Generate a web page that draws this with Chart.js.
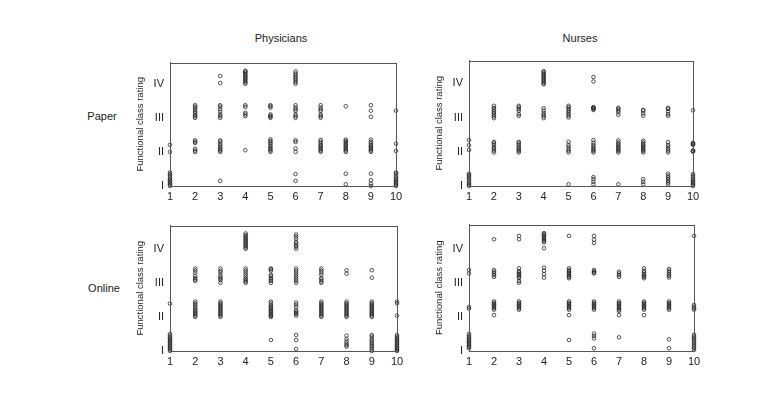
<!DOCTYPE html>
<html>
<head>
<meta charset="utf-8">
<script src="https://cdn.jsdelivr.net/npm/chart.js@4"></script>
<style>
  body { margin: 0; background: #fff; width: 760px; height: 409px; position: relative; overflow: hidden;
         font-family: "Liberation Sans", Arial, sans-serif; color: #222; }
  .lbl { position: absolute; font-size: 11px; transform: translate(-50%, -50%); white-space: nowrap; }
  canvas { position: absolute; }
</style>
</head>
<body>
<div class="lbl" style="left:281px; top:38px;">Physicians</div>
<div class="lbl" style="left:580px; top:38px;">Nurses</div>
<div class="lbl" style="left:102px; top:116px;">Paper</div>
<div class="lbl" style="left:104px; top:288px;">Online</div>

<canvas id="physPaperChart"></canvas>
<canvas id="nursePaperChart"></canvas>
<canvas id="physOnlineChart"></canvas>
<canvas id="nurseOnlineChart"></canvas>

<script>
// Categories on the x axis
const categories = [1, 2, 3, 4, 5, 6, 7, 8, 9, 10];
const ratingTicks = [1, 2, 3, 4];
const ratingLabels = ['I', 'II', 'III', 'IV'];

// Ratings per category (jittered stacks)
const physPaper = [
    [1.0, 1.04, 1.08, 1.12, 1.16, 1.2, 1.25, 1.3, 1.35, 1.4, 2.0, 2.21],
    [2.0, 2.04, 2.09, 2.26, 2.3, 2.34, 3.0, 3.04, 3.08, 3.13, 3.18, 3.23, 3.28, 3.33, 3.37],
    [1.15, 2.0, 2.04, 2.08, 2.13, 2.18, 2.23, 2.3, 2.34, 3.0, 3.05, 3.1, 3.18, 3.25, 3.33, 3.37, 4.02, 4.23],
    [2.05, 3.05, 3.1, 3.15, 3.32, 3.37, 4.0, 4.04, 4.08, 4.12, 4.16, 4.2, 4.24, 4.28, 4.32, 4.36, 4.38],
    [2.0, 2.04, 2.08, 2.12, 2.17, 2.22, 2.27, 2.32, 2.37, 3.0, 3.03, 3.06, 3.1, 3.3, 3.34, 3.37],
    [1.15, 1.35, 2.0, 2.1, 2.29, 2.34, 3.0, 3.05, 3.1, 3.2, 3.25, 3.3, 3.37, 4.0, 4.05, 4.1, 4.15, 4.2, 4.25, 4.3, 4.36],
    [2.0, 2.04, 2.08, 2.12, 2.16, 2.2, 2.25, 2.3, 2.35, 3.0, 3.05, 3.1, 3.2, 3.25, 3.3, 3.37],
    [1.05, 1.36, 2.0, 2.04, 2.08, 2.12, 2.16, 2.2, 2.24, 2.28, 2.32, 2.36, 3.34],
    [1.0, 1.07, 1.17, 1.36, 2.0, 2.04, 2.08, 2.12, 2.16, 2.2, 2.25, 2.3, 2.36, 3.03, 3.21, 3.37],
    [1.0, 1.04, 1.08, 1.12, 1.16, 1.2, 1.25, 1.3, 1.36, 1.4, 2.03, 2.24, 3.21]
];

const nursePaper = [
    [1.0, 1.04, 1.08, 1.13, 1.18, 1.23, 1.28, 1.32, 1.36, 2.05, 2.19, 2.34],
    [1.98, 2.03, 2.08, 2.13, 2.2, 2.25, 2.29, 2.98, 3.03, 3.08, 3.13, 3.18, 3.23, 3.28, 3.34],
    [1.98, 2.02, 2.06, 2.1, 2.15, 2.2, 2.25, 2.29, 3.05, 3.1, 3.2, 3.25, 3.3, 3.34],
    [2.98, 3.03, 3.08, 3.13, 3.2, 3.27, 3.97, 4.0, 4.04, 4.08, 4.12, 4.16, 4.2, 4.24, 4.28, 4.32, 4.35],
    [1.05, 1.98, 2.03, 2.08, 2.15, 2.2, 2.29, 3.0, 3.05, 3.1, 3.15, 3.2, 3.25, 3.3, 3.34],
    [1.05, 1.12, 1.2, 1.26, 1.98, 2.02, 2.06, 2.1, 2.15, 2.2, 2.26, 2.34, 3.22, 3.25, 3.27, 3.29, 3.3, 4.05, 4.18],
    [1.05, 1.98, 2.02, 2.06, 2.1, 2.14, 2.18, 2.22, 2.27, 2.33, 3.08, 3.15, 3.2, 3.25, 3.28],
    [1.05, 1.12, 1.2, 1.98, 2.02, 2.06, 2.1, 2.14, 2.18, 2.22, 2.27, 2.32, 3.05, 3.12, 3.2, 3.22],
    [1.05, 1.1, 1.15, 1.2, 1.25, 1.3, 1.36, 1.98, 2.03, 2.08, 2.15, 2.2, 2.28, 3.05, 3.1, 3.18, 3.25, 3.28],
    [1.0, 1.04, 1.08, 1.12, 1.16, 1.2, 1.25, 1.3, 1.35, 2.0, 2.02, 2.04, 2.2, 2.22, 2.24, 2.26, 3.21]
];

const physOnline = [
    [1.0, 1.04, 1.08, 1.12, 1.16, 1.2, 1.24, 1.28, 1.32, 1.36, 1.4, 1.45, 1.5, 2.39],
    [2.0, 2.04, 2.08, 2.12, 2.16, 2.2, 2.25, 2.3, 2.35, 2.4, 2.45, 3.06, 3.1, 3.14, 3.2, 3.3, 3.36, 3.42],
    [2.0, 2.04, 2.08, 2.12, 2.16, 2.2, 2.24, 2.28, 2.32, 2.36, 2.4, 2.45, 3.0, 3.08, 3.12, 3.16, 3.22, 3.3, 3.35, 3.42],
    [3.0, 3.04, 3.08, 3.12, 3.18, 3.24, 3.3, 3.36, 3.42, 4.0, 4.04, 4.08, 4.12, 4.16, 4.2, 4.24, 4.28, 4.32, 4.36, 4.4, 4.45],
    [1.32, 2.0, 2.03, 2.06, 2.1, 2.14, 2.18, 2.22, 2.26, 2.3, 2.34, 2.4, 2.45, 3.0, 3.06, 3.1, 3.14, 3.2, 3.24, 3.36, 3.4, 3.42],
    [1.06, 1.32, 1.47, 2.04, 2.08, 2.12, 2.16, 2.2, 2.3, 2.36, 2.42, 3.0, 3.06, 3.12, 3.18, 3.24, 3.3, 3.36, 3.42, 4.0, 4.06, 4.1, 4.16, 4.2, 4.3, 4.36, 4.42],
    [2.0, 2.04, 2.08, 2.12, 2.16, 2.2, 2.24, 2.28, 2.32, 2.36, 2.4, 2.45, 3.0, 3.04, 3.1, 3.14, 3.24, 3.3, 3.36, 3.42],
    [1.13, 1.17, 1.22, 1.28, 1.35, 1.45, 2.0, 2.04, 2.08, 2.12, 2.16, 2.2, 2.24, 2.28, 2.32, 2.36, 2.4, 2.45, 3.27, 3.37],
    [1.0, 1.05, 1.1, 1.15, 1.2, 1.25, 1.3, 1.35, 1.42, 1.47, 2.0, 2.04, 2.08, 2.12, 2.16, 2.2, 2.24, 2.28, 2.32, 2.36, 2.4, 2.45, 3.15, 3.37],
    [1.0, 1.03, 1.06, 1.1, 1.14, 1.18, 1.22, 1.26, 1.3, 1.34, 1.38, 1.42, 1.47, 2.04, 2.4, 2.45]
];

const nurseOnline = [
    [1.08, 1.12, 1.16, 1.2, 1.24, 1.28, 1.32, 1.36, 1.4, 1.45, 1.5, 2.24, 2.29, 3.27, 3.37],
    [2.05, 2.21, 2.25, 2.29, 2.33, 2.37, 2.41, 2.45, 3.17, 3.22, 3.27, 3.32, 3.37, 4.27],
    [2.21, 2.25, 2.29, 2.33, 2.37, 2.41, 2.45, 3.0, 3.05, 3.14, 3.18, 3.22, 3.26, 3.3, 3.34, 3.42, 4.27, 4.37],
    [3.15, 3.25, 3.35, 3.44, 4.01, 4.18, 4.22, 4.26, 4.3, 4.34, 4.38, 4.42, 4.45],
    [1.32, 2.05, 2.21, 2.25, 2.29, 2.33, 2.37, 2.41, 2.45, 3.13, 3.17, 3.21, 3.25, 3.29, 3.33, 3.37, 3.42, 4.37],
    [1.08, 1.37, 1.44, 1.51, 2.21, 2.25, 2.29, 2.33, 2.37, 2.41, 2.45, 3.27, 3.3, 3.33, 3.37, 4.16, 4.26, 4.37],
    [1.4, 2.05, 2.17, 2.21, 2.25, 2.29, 2.33, 2.37, 2.41, 2.45, 3.17, 3.22, 3.27, 3.32],
    [2.05, 2.21, 2.25, 2.29, 2.33, 2.37, 2.41, 2.45, 3.13, 3.17, 3.21, 3.25, 3.3, 3.35, 3.42],
    [1.08, 1.34, 2.21, 2.25, 2.29, 2.33, 2.37, 2.41, 2.45, 3.15, 3.2, 3.25, 3.3, 3.35, 3.4],
    [1.03, 1.08, 1.13, 1.18, 1.23, 1.28, 1.33, 1.38, 1.43, 1.48, 2.21, 2.25, 2.3, 2.35, 4.37]
];

// Draw a full frame round the plot area
const framePlugin = {
    id: 'frame',
    afterDraw(chart) {
        const a = chart.chartArea;
        const ctx = chart.ctx;
        ctx.save();
        ctx.strokeStyle = '#555';
        ctx.lineWidth = 1;
        ctx.strokeRect(Math.round(a.left) + 0.5, Math.round(a.top) + 0.5,
                       Math.round(a.right - a.left), Math.round(a.bottom - a.top));
        ctx.restore();
    }
};

function makePanel(id, stacks, box, yMax) {
    const padTop = 8, padRight = 8, axisW = 40, axisH = 24;
    const canvas = document.getElementById(id);
    const w = box.right - box.left + axisW + padRight;
    const h = box.bottom - box.top + padTop + axisH;
    canvas.width = w;
    canvas.height = h;
    canvas.style.left = (box.left - axisW) + 'px';
    canvas.style.top = (box.top - padTop) + 'px';

    const points = [];
    stacks.forEach((ys, i) => {
        ys.forEach(y => points.push({ x: categories[i], y: y }));
    });

    new Chart(canvas, {
        type: 'scatter',
        data: {
            datasets: [{
                data: points,
                pointStyle: 'circle',
                pointRadius: 1.8,
                pointBorderWidth: 0.9,
                borderColor: 'rgba(30,30,30,0.85)',
                backgroundColor: 'rgba(0,0,0,0)',
                clip: false
            }]
        },
        plugins: [framePlugin],
        options: {
            responsive: false,
            animation: false,
            layout: { padding: { top: padTop, right: padRight, left: 0, bottom: 0 } },
            plugins: { legend: { display: false }, tooltip: { enabled: false } },
            scales: {
                x: {
                    type: 'linear',
                    min: 1,
                    max: 10,
                    afterFit: s => { s.height = axisH; },
                    afterBuildTicks: s => { s.ticks = categories.map(v => ({ value: v })); },
                    grid: { display: false, drawOnChartArea: false, drawTicks: true, tickLength: 3, color: '#555' },
                    border: { display: true, color: '#555' },
                    ticks: { padding: 1, color: '#222', font: { family: 'Liberation Sans', size: 11 }, maxRotation: 0 }
                },
                y: {
                    min: 1,
                    max: yMax,
                    afterFit: s => { s.width = axisW; },
                    afterBuildTicks: s => { s.ticks = ratingTicks.map(v => ({ value: v })); },
                    grid: { display: false, drawOnChartArea: false, drawTicks: true, tickLength: 3, color: '#555' },
                    border: { display: true, color: '#555' },
                    ticks: {
                        padding: 3,
                        color: '#222',
                        font: { family: 'Liberation Sans', size: 11 },
                        callback: v => ratingLabels[ratingTicks.indexOf(v)] || ''
                    },
                    title: {
                        display: true,
                        text: 'Functional class rating',
                        color: '#222',
                        font: { family: 'Liberation Sans', size: 9.5 },
                        padding: { top: 5, bottom: 0 }
                    }
                }
            }
        }
    });
}

makePanel('physPaperChart', physPaper, { left: 170, right: 396, top: 61, bottom: 186 }, 4.62);
makePanel('nursePaperChart', nursePaper, { left: 469, right: 693, top: 59, bottom: 186 }, 4.66);
makePanel('physOnlineChart', physOnline, { left: 170, right: 397, top: 224, bottom: 351 }, 4.68);
makePanel('nurseOnlineChart', nurseOnline, { left: 469, right: 694, top: 223, bottom: 351 }, 4.7);
</script>
</body>
</html>
